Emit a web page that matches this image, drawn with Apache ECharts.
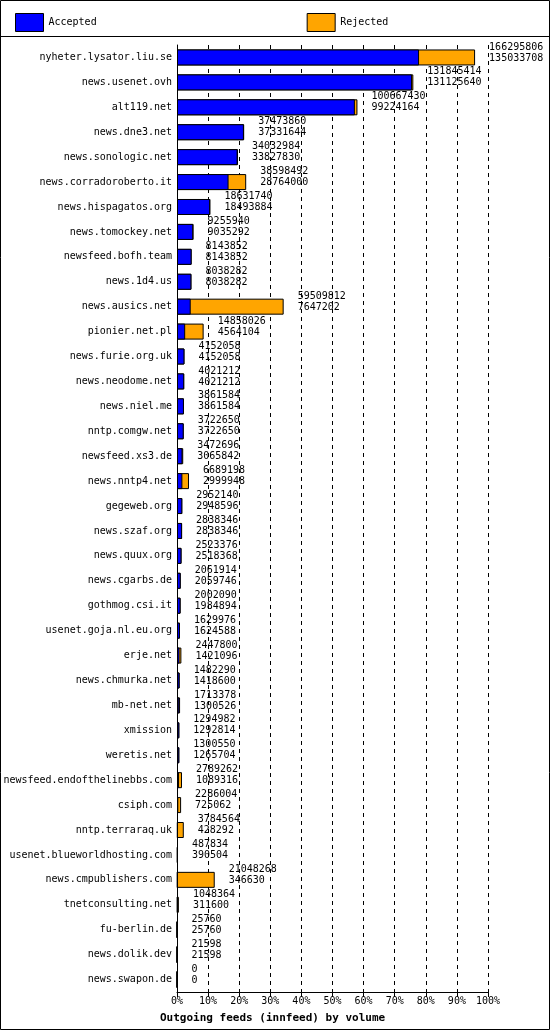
<!DOCTYPE html>
<html><head><meta charset="utf-8">
<script src="https://cdn.jsdelivr.net/npm/echarts@6/dist/echarts.min.js"></script>
<style>html,body{margin:0;padding:0;background:#fff}#c{width:550px;height:1030px}</style>
</head><body><div id="c"></div>
<script>
const categories = ["nyheter.lysator.liu.se","news.usenet.ovh","alt119.net","news.dne3.net","news.sonologic.net","news.corradoroberto.it","news.hispagatos.org","news.tomockey.net","newsfeed.bofh.team","news.1d4.us","news.ausics.net","pionier.net.pl","news.furie.org.uk","news.neodome.net","news.niel.me","nntp.comgw.net","newsfeed.xs3.de","news.nntp4.net","gegeweb.org","news.szaf.org","news.quux.org","news.cgarbs.de","gothmog.csi.it","usenet.goja.nl.eu.org","erje.net","news.chmurka.net","mb-net.net","xmission","weretis.net","newsfeed.endofthelinebbs.com","csiph.com","nntp.terraraq.uk","usenet.blueworldhosting.com","news.cmpublishers.com","tnetconsulting.net","fu-berlin.de","news.dolik.dev","news.swapon.de"];
const offered = [166295806,131845414,100667430,37473860,34032984,38598492,18631740,9255940,8143852,8038282,59509812,14858026,4152058,4021212,3861584,3722650,3472696,6689198,2952140,2838346,2523376,2061914,2002090,1629976,2447800,1482290,1713378,1294982,1300550,2789262,2286004,3784564,487834,21048268,1048364,25760,21598,0];
const accepted = [135033708,131125640,99224164,37331644,33827830,28764000,18493884,9035292,8143852,8038282,7647202,4564104,4152058,4021212,3861584,3722650,3065842,2999948,2948596,2838346,2518368,2059746,1984894,1624588,1421096,1418600,1300526,1292814,1265704,1089316,725062,428292,390504,346630,311600,25760,21598,0];
const axisMax = 173500000;
const tickLabels = ["0%","10%","20%","30%","40%","50%","60%","70%","80%","90%","100%"];

const chart = echarts.init(document.getElementById('c'));
const font = "DejaVu Sans Mono";
chart.setOption({
  animation:false,
  textStyle:{fontFamily:font},
  graphic:[
    {type:'rect', shape:{x:0.5,y:0.5,width:549,height:1029}, style:{fill:'none',stroke:'#000'}},
    {type:'line', shape:{x1:0,y1:36.5,x2:550,y2:36.5}, style:{stroke:'#000'}}
  ],
  legend:{top:8,left:10,itemWidth:28,itemHeight:18,itemGap:210,icon:'rect',
    textStyle:{fontFamily:font,fontSize:10,color:'#000'},
    data:[{name:'Accepted',itemStyle:{color:'#0000ff',borderColor:'#000',borderWidth:1}},
          {name:'Rejected',itemStyle:{color:'#ffa500',borderColor:'#000',borderWidth:1}}]},
  title:{text:'Outgoing feeds (innfeed) by volume',left:155,bottom:1,
    textStyle:{fontFamily:font,fontSize:11,fontWeight:'bold',color:'#000'}},
  grid:{left:177,right:62,top:45,bottom:38,containLabel:false},
  xAxis:{type:'value',min:0,max:axisMax,interval:axisMax/10,
    axisLine:{show:true,lineStyle:{color:'#000'}},axisTick:{show:true,lineStyle:{color:'#000'}},
    axisLabel:{fontFamily:font,fontSize:10,color:'#000',margin:4,formatter:(v)=>tickLabels[Math.round(v/axisMax*10)]},
    splitLine:{show:true,lineStyle:{color:'#000',type:[4,4]}}},
  yAxis:{type:'category',data:categories,inverse:true,
    axisLine:{show:true,lineStyle:{color:'#000'}},axisTick:{show:false},
    axisLabel:{fontFamily:font,fontSize:10,color:'#000',margin:5}},
  series:[
    {name:'Rejected',type:'bar',data:offered,barWidth:16,barGap:'-100%',barMinWidth:3,z:2,
     itemStyle:{color:'#ffa500',borderColor:'#000',borderWidth:1},
     label:{show:true,position:'right',distance:14,offset:[0,-5],fontFamily:font,fontSize:10,color:'#000',lineHeight:11,
       formatter:(p)=>offered[p.dataIndex]+'\n'+accepted[p.dataIndex]}},
    {name:'Accepted',type:'bar',data:accepted,barWidth:16,z:3,
     itemStyle:{color:'#0000ff',borderColor:'#000',borderWidth:1}}
  ]
});
</script></body></html>
